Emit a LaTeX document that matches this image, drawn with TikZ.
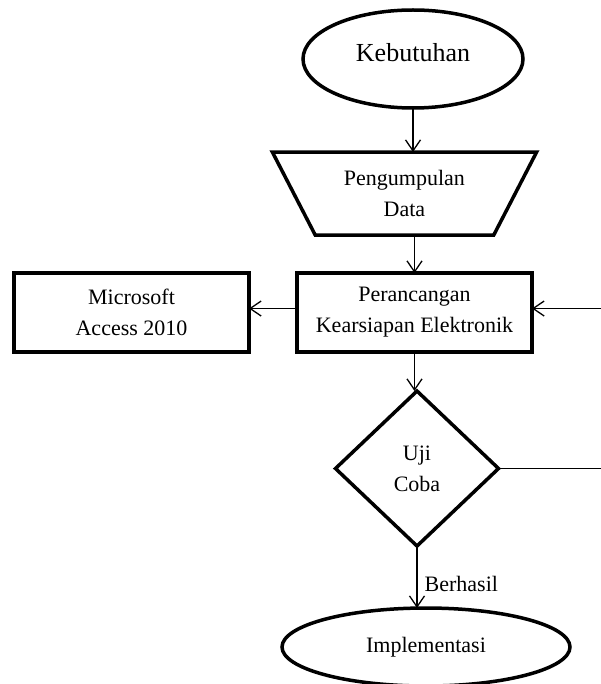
\documentclass[tikz,border=0pt]{standalone}
\usepackage{fontspec}
\setmainfont{Liberation Serif}
\usepackage{tikz}
\usetikzlibrary{positioning,arrows.meta,shapes.geometric}

\begin{document}
\begin{tikzpicture}[
  x=1pt, y=-1pt,
  font=\fontsize{22}{31}\selectfont,
  shp/.style={draw, line width=3.5pt, outer sep=0pt, inner sep=0pt, align=center},
  oval/.style={shp, ellipse},
  proc/.style={shp, rectangle, minimum width=235pt, minimum height=79pt},
  arr/.style={-{Straight Barb[length=11pt,width=15pt]}, line width=1.3pt}
]
\useasboundingbox (0,0) rectangle (601,684);
\clip (0,0) rectangle (601,684);
\node[oval, minimum width=220pt, minimum height=98pt, text depth=14pt, font=\fontsize{26}{31}\selectfont] (keb) at (413,59) {Kebutuhan};
\node[shp, trapezium, shape border rotate=180, trapezium stretches=true,
  trapezium left angle=58, trapezium right angle=58, minimum width=265pt, minimum height=83pt,
  below=44pt of keb, xshift=-8.5pt] (data) {Pengumpulan\\Data};
\node[proc, below=38pt of data, xshift=10pt] (rancang) {Perancangan\\Kearsiapan Elektronik};
\node[proc, left=48pt of rancang] (access) {Microsoft\\Access 2010};
\node[shp, diamond, minimum width=163pt, minimum height=155pt, below=39pt of rancang, xshift=2.5pt] (uji) {Uji\\Coba};
\node[oval, minimum width=288pt, minimum height=78pt, below=62pt of uji, xshift=9pt] (impl) {Implementasi};
\draw[arr] (keb.south) -- (keb.south |- data.north);
\draw[arr] (rancang.north |- data.south) -- (rancang.north);
\draw[arr] ([yshift=4pt]rancang.west) -- ([yshift=4pt]access.east);
\draw[arr] (rancang.south) -- (rancang.south |- uji.north);
\draw[arr] (uji.south) -- (uji.south |- impl.north) node[right, pos=0.61, inner sep=7pt] (hasil) {Berhasil};
% loop back, cut off by the right edge
\draw[arr] (uji.east) -- ++(150,0) coordinate (balik) |- ([yshift=4pt]rancang.east);
\end{tikzpicture}
\end{document}
